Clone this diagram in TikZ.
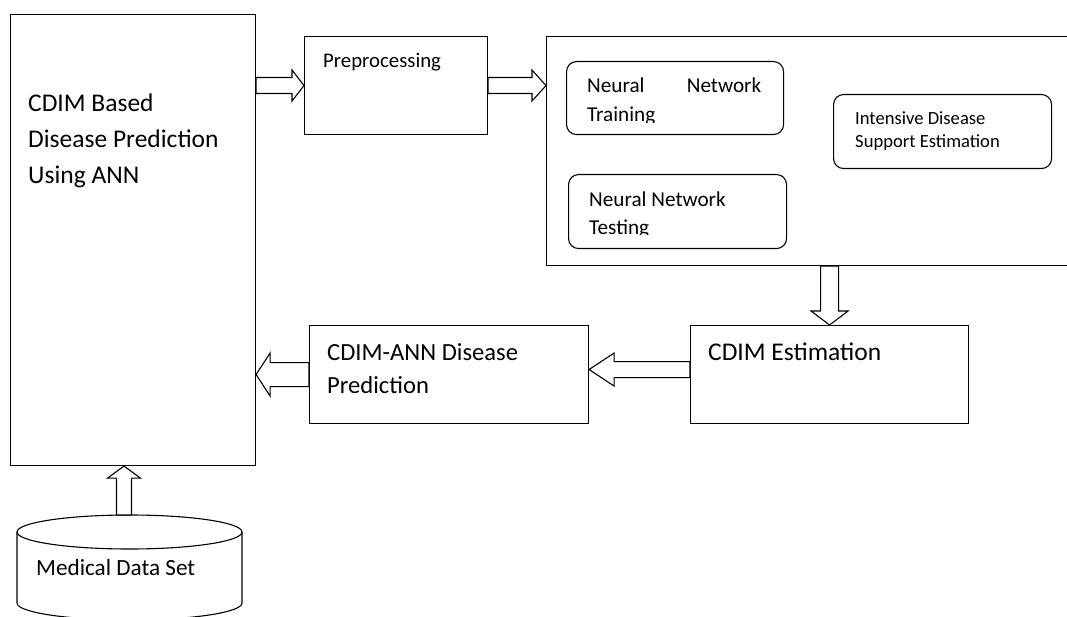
\documentclass[tikz,border=0pt]{standalone}
\usepackage{fontspec}
\setmainfont{Carlito}
\usetikzlibrary{calc}
\newcommand\blockH[5]{%
  \draw[blk] let \p1=(#1), \p2=(#2) in
    ({\x1},{\y1+#3}) -- ({\x2-(#5)},{\y1+#3}) -- ({\x2-(#5)},{\y1+#4}) -- ({\x2},{\y1})
    -- ({\x2-(#5)},{\y1-#4}) -- ({\x2-(#5)},{\y1-#3}) -- ({\x1},{\y1-#3}) -- cycle;}
\newcommand\blockV[5]{%
  \draw[blk] let \p1=(#1), \p2=(#2) in
    ({\x1+#3},{\y1}) -- ({\x1+#3},{\y2-(#5)}) -- ({\x1+#4},{\y2-(#5)}) -- ({\x1},{\y2})
    -- ({\x1-#4},{\y2-(#5)}) -- ({\x1-#3},{\y2-(#5)}) -- ({\x1-#3},{\y1}) -- cycle;}
\begin{document}
\begin{tikzpicture}[x=1pt,y=-1pt,
  box/.style={draw, line width=1.1pt, inner sep=0pt, anchor=north west},
  rbox/.style={box, rounded corners=10pt},
  txt/.style={anchor=base west, inner sep=0pt, align=left},
  blk/.style={draw, line width=1.1pt, fill=white, line join=miter}]
\useasboundingbox (0,0) rectangle (1067,617);
\clip (0,0) rectangle (1067,617);

% boxes
\node[box, minimum width=245.5pt, minimum height=451pt] (left) at (9.5,14) {};
\node[box, minimum width=183pt, minimum height=98pt] (pre) at (304,36) {};
\node[box, minimum width=544pt, minimum height=229pt] (big) at (546,36) {};
\node[rbox, minimum width=217pt, minimum height=73pt] (nnt) at (566,61) {};
\node[rbox, minimum width=218pt, minimum height=74pt] (ids) at (833,94) {};
\node[rbox, minimum width=218pt, minimum height=74pt] (nnte) at (568,174) {};
\node[box, minimum width=278pt, minimum height=98pt] (est) at (690,325) {};
\node[box, minimum width=279pt, minimum height=98pt] (ann) at (309,325) {};

% database cylinder
\draw[line width=1.1pt] (129.5,532) ellipse [x radius=112.5pt, y radius=17pt];
\draw[line width=1.1pt] (17,532) -- (17,603)
  arc[start angle=180, end angle=360, x radius=112.5pt, y radius=17pt] -- (242,532);
\coordinate (dbtop) at (124,515);

% texts (multi-line nodes are placed by the baseline of their last line)
\node[txt, font=\fontsize{25.5}{36}\selectfont] (lt) at (28,184)
  {CDIM Based\\Disease Prediction\\Using ANN};
\node[txt, font=\fontsize{20.8}{24}\selectfont] (ptx) at (323,68) {Preprocessing};
\begin{scope}
  \clip (566,61) rectangle (783,122.5);
  \node[txt, text width=174pt, font=\fontsize{21.2}{29}\selectfont] (nntx) at (587,93)
    {Neural\hfill Network\\Training};
\end{scope}
\begin{scope}
  \clip (568,174) rectangle (786,234.5);
  \node[txt, font=\fontsize{21.2}{28}\selectfont] (nntex) at (589,235)
    {Neural Network\\Testing};
\end{scope}
\node[txt, font=\fontsize{18.6}{23}\selectfont] (idsx) at (855,148)
  {Intensive Disease\\Support Estimation};
\node[txt, font=\fontsize{24.6}{33}\selectfont] (annx) at (327,393)
  {CDIM-ANN Disease\\Prediction};
\node[txt, font=\fontsize{25.5}{30}\selectfont] (estx) at (708,360) {CDIM Estimation};
\node[txt, font=\fontsize{23.2}{28}\selectfont] (db) at (36,575) {Medical Data Set};

% block arrows
\blockH{left.east |- pre.west}{pre.west}{8pt}{15.5pt}{12pt}
\blockH{pre.east}{big.west |- pre.east}{8pt}{15.5pt}{14pt}
\blockV{est.north |- big.south}{est.north}{9pt}{18.5pt}{-14pt}
\blockH{$(est.west)+(0,-5)$}{$(ann.east)+(0,-5)$}{8pt}{16.5pt}{-25pt}
\blockH{ann.west}{left.east |- ann.west}{12pt}{21.5pt}{-14pt}
\blockV{dbtop}{left.south -| dbtop}{7.5pt}{16.5pt}{12pt}
\end{tikzpicture}
\end{document}
